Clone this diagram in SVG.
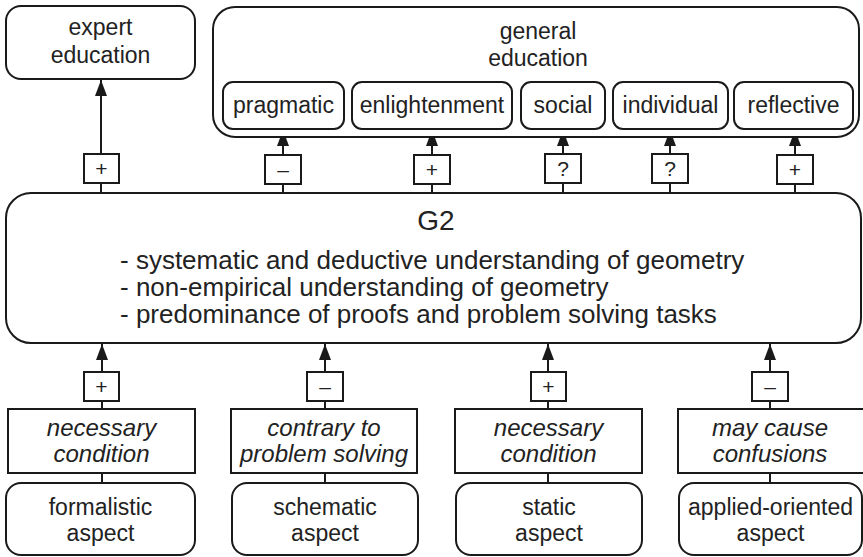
<svg xmlns="http://www.w3.org/2000/svg" width="863" height="557" viewBox="0 0 863 557">
<defs>
<marker id="ah" markerWidth="16" markerHeight="12" refX="16" refY="6" orient="auto" markerUnits="userSpaceOnUse" viewBox="0 0 16 12">
<path d="M0,0 L16,6 L0,12 Z" fill="#1a1a1a"/>
</marker>
</defs>
<style>
.box{fill:#fff;stroke:#1a1a1a;stroke-width:2}
.t{font-family:"Liberation Sans",Arial,sans-serif;font-size:23px;fill:#222;text-anchor:middle}
.i{font-style:italic;font-size:24px}
.s{font-size:21px}
.g{font-size:26px;text-anchor:start}
.c{stroke:#1a1a1a;stroke-width:2;fill:none}
</style>
<rect width="863" height="557" fill="#fff"/>

<g id="connectors">
<line class="c" x1="101" y1="193" x2="101" y2="80" marker-end="url(#ah)"/>
<line class="c" x1="283" y1="193" x2="283" y2="130" marker-end="url(#ah)"/>
<line class="c" x1="432" y1="193" x2="432" y2="130" marker-end="url(#ah)"/>
<line class="c" x1="563" y1="193" x2="563" y2="130" marker-end="url(#ah)"/>
<line class="c" x1="670" y1="193" x2="670" y2="130" marker-end="url(#ah)"/>
<line class="c" x1="795" y1="193" x2="795" y2="130" marker-end="url(#ah)"/>
<line class="c" x1="102" y1="483" x2="102" y2="344" marker-end="url(#ah)"/>
<line class="c" x1="325" y1="483" x2="325" y2="344" marker-end="url(#ah)"/>
<line class="c" x1="548" y1="483" x2="548" y2="344" marker-end="url(#ah)"/>
<line class="c" x1="770" y1="483" x2="770" y2="344" marker-end="url(#ah)"/>
</g>

<g id="expert">
<rect class="box" x="6" y="6" width="189" height="73" rx="15"/>
<text class="t" x="100.5" y="35">expert</text>
<text class="t" x="100.5" y="63">education</text>
</g>

<g id="general">
<rect class="box" x="213" y="7" width="646" height="130" rx="22"/>
<text class="t" x="538" y="39">general</text>
<text class="t" x="538" y="66">education</text>
</g>
<g id="pragmatic"><rect class="box" x="223" y="82" width="121" height="47" rx="10"/><text class="t" x="283.5" y="113">pragmatic</text></g>
<g id="enlightenment"><rect class="box" x="352" y="82" width="160" height="47" rx="10"/><text class="t" x="432" y="113">enlightenment</text></g>
<g id="social"><rect class="box" x="521" y="82" width="84" height="47" rx="10"/><text class="t" x="563" y="113">social</text></g>
<g id="individual"><rect class="box" x="613" y="82" width="115" height="47" rx="10"/><text class="t" x="670.5" y="113">individual</text></g>
<g id="reflective"><rect class="box" x="734" y="82" width="119" height="47" rx="10"/><text class="t" x="793.5" y="113">reflective</text></g>

<g id="sign-expert"><rect class="box" x="84" y="154" width="35" height="29"/><text class="t s" x="101.5" y="176">+</text></g>
<g id="sign-pragmatic"><rect class="box" x="265" y="155" width="36" height="29"/><text class="t s" x="283" y="177">–</text></g>
<g id="sign-enlightenment"><rect class="box" x="414" y="155" width="36" height="29"/><text class="t s" x="432" y="177">+</text></g>
<g id="sign-social"><rect class="box" x="545" y="154" width="36" height="29"/><text class="t s" x="563" y="176">?</text></g>
<g id="sign-individual"><rect class="box" x="652" y="154" width="36" height="29"/><text class="t s" x="670" y="176">?</text></g>
<g id="sign-reflective"><rect class="box" x="777" y="155" width="36" height="29"/><text class="t s" x="795" y="177">+</text></g>

<g id="G2">
<rect class="box" x="6" y="193" width="855" height="150" rx="25"/>
<text class="t" x="436" y="230" style="font-size:28px">G2</text>
<text class="t g" x="120" y="269">- systematic and deductive understanding of geometry</text>
<text class="t g" x="120" y="296">- non-empirical understanding of geometry</text>
<text class="t g" x="120" y="323">- predominance of proofs and problem solving tasks</text>
</g>

<g id="sign-formalistic"><rect class="box" x="84" y="372" width="35" height="29"/><text class="t s" x="101.5" y="394">+</text></g>
<g id="sign-schematic"><rect class="box" x="307" y="372" width="36" height="29"/><text class="t s" x="325" y="394">–</text></g>
<g id="sign-static"><rect class="box" x="531" y="372" width="35" height="29"/><text class="t s" x="548.5" y="394">+</text></g>
<g id="sign-applied"><rect class="box" x="752" y="372" width="36" height="29"/><text class="t s" x="770" y="394">–</text></g>

<g id="cond-formalistic"><rect class="box" x="8" y="409" width="187" height="64"/><text class="t i" x="101.5" y="436">necessary</text><text class="t i" x="101.5" y="462">condition</text></g>
<g id="cond-schematic"><rect class="box" x="231" y="409" width="186" height="64"/><text class="t i" x="324" y="436">contrary to</text><text class="t i" x="324" y="462">problem solving</text></g>
<g id="cond-static"><rect class="box" x="455" y="409" width="187" height="64"/><text class="t i" x="548.5" y="436">necessary</text><text class="t i" x="548.5" y="462">condition</text></g>
<g id="cond-applied"><rect class="box" x="678" y="409" width="187" height="64"/><text class="t i" x="770" y="436">may cause</text><text class="t i" x="770" y="462">confusions</text></g>

<g id="aspect-formalistic"><rect class="box" x="6" y="483" width="189" height="72" rx="15"/><text class="t" x="100.5" y="515">formalistic</text><text class="t" x="100.5" y="541">aspect</text></g>
<g id="aspect-schematic"><rect class="box" x="232" y="483" width="186" height="72" rx="15"/><text class="t" x="325" y="515">schematic</text><text class="t" x="325" y="541">aspect</text></g>
<g id="aspect-static"><rect class="box" x="456" y="483" width="186" height="72" rx="15"/><text class="t" x="549" y="515">static</text><text class="t" x="549" y="541">aspect</text></g>
<g id="aspect-applied"><rect class="box" x="679" y="483" width="183" height="72" rx="15"/><text class="t" x="770.5" y="515">applied-oriented</text><text class="t" x="770.5" y="541">aspect</text></g>
</svg>
